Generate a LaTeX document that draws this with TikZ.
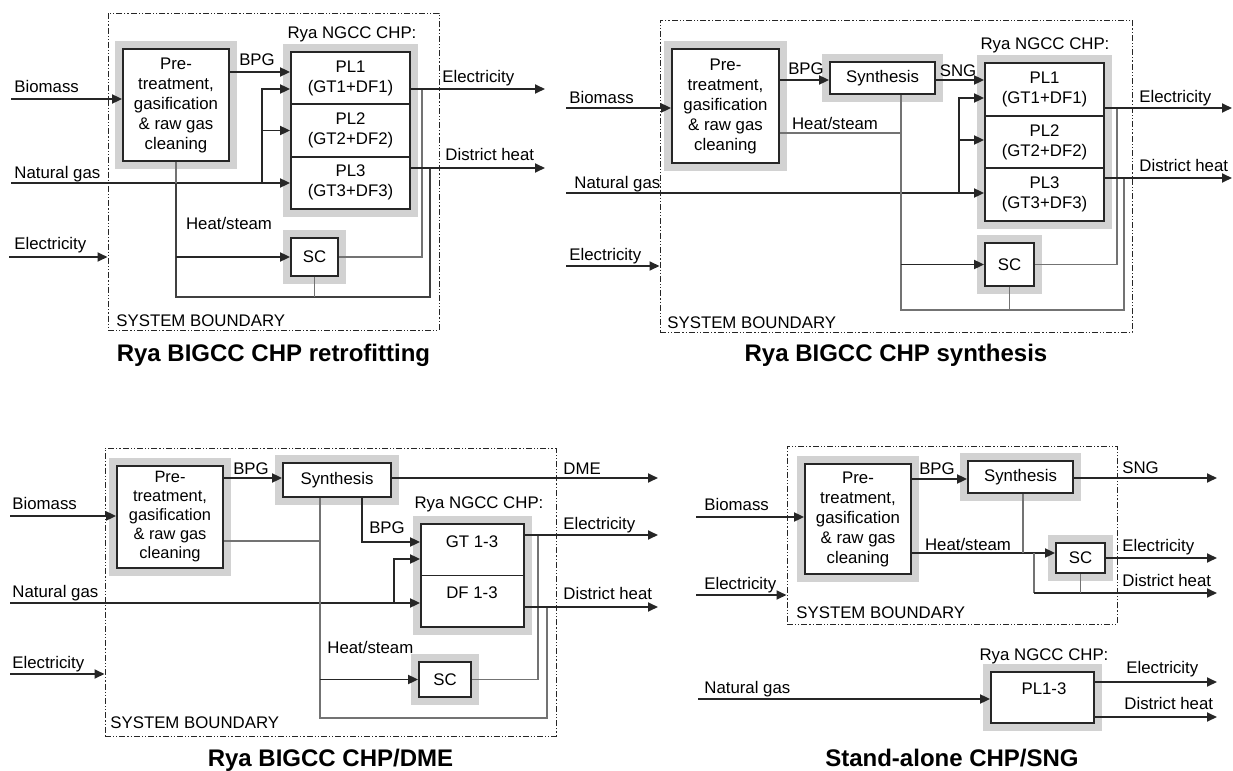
\documentclass[tikz,border=0pt]{standalone}
\usepackage{fontspec}
\setmainfont{Liberation Sans}
\usetikzlibrary{arrows.meta,positioning}

\newcommand{\lblfont}{\fontsize{8.4}{10}\selectfont}

\tikzset{
  unitbox/.style={draw=black!85, line width=0.9pt, fill=white, preaction={draw=gray!35, line width=8pt}, inner sep=0pt, align=center, font=\lblfont},
  cell/.style={draw=black!85, line width=0.9pt, inner sep=0pt, align=center, font=\lblfont},
  sysb/.style={draw=black!85, line width=0.5pt, dash pattern=on 3pt off 1pt on 0.6pt off 1pt on 0.6pt off 1pt, inner sep=0pt},
  lbl/.style={font=\lblfont, inner sep=0pt, text height=6pt, text depth=0pt},
  ttl/.style={font=\bfseries\fontsize{12}{14}\selectfont, inner sep=0pt, text height=8.6pt, text depth=0pt},
  flow/.style={->, >={Stealth[inset=0pt, length=5pt, width=4.5pt]}, line width=0.9pt, draw=black!85},
  tap/.style={line width=0.55pt, draw=black!55}
}

\begin{document}
\begin{tikzpicture}[x=0.5pt, y=-0.5pt]
\useasboundingbox (0,0) rectangle (1233,771);

% ---- Rya BIGCC CHP retrofitting ----
\node[sysb, minimum width=165.5pt, minimum height=158.5pt] (sb1) at (273.5,171.5) {};
\node[unitbox, minimum width=53pt, minimum height=56pt] (pre1) at (176,105) {Pre-\\treatment,\\gasification\\\& raw gas\\cleaning};
\node[unitbox, minimum width=59.5pt, minimum height=78.5pt] (chp1) at (350.5,130.5) {};
\node[cell, minimum width=59.5pt, minimum height=26.17pt] (pl11) at (350.5,78.2) {PL1\\(GT1+DF1)};
\node[cell, minimum width=59.5pt, minimum height=26.17pt] (pl12) at (350.5,130.5) {PL2\\(GT2+DF2)};
\node[cell, minimum width=59.5pt, minimum height=26.17pt] (pl13) at (350.5,182.8) {PL3\\(GT3+DF3)};
\node[unitbox, minimum width=23.5pt, minimum height=19pt] (sc1) at (314.5,257) {SC};

\coordinate (bio1) at (11,99);
\coordinate (ng1) at (11,183);
\coordinate (el1) at (9,257);
\coordinate (ngj1) at (262,183);
\coordinate (hsj1) at (176,183);
\coordinate (elj1) at (422,89);
\coordinate (dhj1) at (430,168);
\coordinate (elo1) at (545,89);
\coordinate (dho1) at (545,168);

\draw[flow] (bio1) -- (pre1.west |- bio1);
\draw[flow] (pre1.east |- 0,72) -- (pl11.west |- 0,72);
\draw[flow] (ng1) -- (pl13.west |- ng1);
\draw[flow] (ngj1) |- (pl11.west |- 0,89);
\draw[flow] (ngj1) |- (pl12.west);
\draw[flow] (el1) -- (sb1.west |- el1);
\draw[tap] (pre1.south) -- (hsj1);
\draw[tap, draw=black!75] (hsj1) -- (hsj1 |- 0,297) -| (dhj1);
\draw[flow] (hsj1 |- sc1.west) -- (sc1.west);
\draw[tap] (sc1.south) -- (sc1.south |- 0,297);
\draw[tap] (sc1.east) -| (elj1);
\draw[flow] (pl11.east |- elj1) -- (elo1);
\draw[flow] (pl13.east |- dhj1) -- (dho1);

\node[lbl, anchor=west] (bio1t) at (14,86) {Biomass};
\node[lbl, anchor=west] (ng1t) at (14,172) {Natural gas};
\node[lbl, anchor=west] (el1t) at (14,243) {Electricity};
\node[lbl] (bpg1t) at (257,59) {BPG};
\node[lbl] (hs1t) at (229,223) {Heat/steam};
\node[lbl] (ngcc1t) at (352,33) {Rya NGCC CHP:};
\node[lbl, anchor=west] (elo1t) at (442,77) {Electricity};
\node[lbl, anchor=west] (dho1t) at (445,154) {District heat};
\node[lbl, anchor=west] (sb1t) at (116,320) {SYSTEM BOUNDARY};
\node[ttl] (ttl1) at (273.5,353) {Rya BIGCC CHP retrofitting};

% ---- Rya BIGCC CHP synthesis ----
\node[sysb, minimum width=236pt, minimum height=156pt] (sb2) at (896,176) {};
\node[unitbox, minimum width=53.5pt, minimum height=57pt] (pre2) at (725.5,106) {Pre-\\treatment,\\gasification\\\& raw gas\\cleaning};
\node[unitbox, minimum width=52.5pt, minimum height=16pt] (syn2) at (882.5,78) {Synthesis};
\node[unitbox, minimum width=59.5pt, minimum height=79pt] (chp2) at (1044.5,142) {};
\node[cell, minimum width=59.5pt, minimum height=26.33pt] (pl21) at (1044.5,89.3) {PL1\\(GT1+DF1)};
\node[cell, minimum width=59.5pt, minimum height=26.33pt] (pl22) at (1044.5,142) {PL2\\(GT2+DF2)};
\node[cell, minimum width=59.5pt, minimum height=26.33pt] (pl23) at (1044.5,194.7) {PL3\\(GT3+DF3)};
\node[unitbox, minimum width=24.5pt, minimum height=21.5pt] (sc2) at (1009.5,264.5) {SC};

\coordinate (bio2) at (566,108);
\coordinate (ng2) at (566,193);
\coordinate (el2) at (566,266);
\coordinate (ngj2) at (959,193);
\coordinate (hsj2) at (901,133);
\coordinate (elj2) at (1117,108);
\coordinate (dhj2) at (1124,178);
\coordinate (elo2) at (1232,108);
\coordinate (dho2) at (1232,178);

\draw[flow] (bio2) -- (pre2.west |- bio2);
\draw[flow] (pre2.east |- 0,80) -- (syn2.west |- 0,80);
\draw[flow] (syn2.east |- 0,80) -- (pl21.west |- 0,80);
\draw[flow] (ng2) -- (pl23.west |- ng2);
\draw[flow] (ngj2) |- (pl21.west |- 0,98);
\draw[flow] (ngj2) |- (pl22.west |- 0,140);
\draw[flow] (el2) -- (sb2.west |- el2);
\draw[tap] (pre2.east |- hsj2) -- (hsj2);
\draw[tap] (syn2.south -| hsj2) -- (hsj2 |- 0,310) -| (dhj2);
\draw[flow] (hsj2 |- sc2.west) -- (sc2.west);
\draw[tap] (sc2.south) -- (sc2.south |- 0,310);
\draw[tap] (sc2.east) -| (elj2);
\draw[flow] (pl21.east |- elj2) -- (elo2);
\draw[flow] (pl23.east |- dhj2) -- (dho2);

\node[lbl, anchor=west] (bio2t) at (569,97) {Biomass};
\node[lbl, anchor=west] (ng2t) at (574,182) {Natural gas};
\node[lbl, anchor=west] (el2t) at (569,254) {Electricity};
\node[lbl] (bpg2t) at (806,68) {BPG};
\node[lbl] (sng2t) at (958,70) {SNG};
\node[lbl] (hs2t) at (835,123) {Heat/steam};
\node[lbl] (ngcc2t) at (1045,43) {Rya NGCC CHP:};
\node[lbl, anchor=west] (elo2t) at (1139,96) {Electricity};
\node[lbl, anchor=west] (dho2t) at (1139,165) {District heat};
\node[lbl, anchor=west] (sb2t) at (667,322) {SYSTEM BOUNDARY};
\node[ttl] (ttl2) at (896,353) {Rya BIGCC CHP synthesis};

% ---- Rya BIGCC CHP/DME ----
\node[sysb, minimum width=225.5pt, minimum height=144pt] (sb3) at (330.5,592) {};
\node[unitbox, minimum width=53pt, minimum height=51pt, font=\fontsize{8.2}{9.5}\selectfont] (pre3) at (170,517) {Pre-\\treatment,\\gasification\\\& raw gas\\cleaning};
\node[unitbox, minimum width=54pt, minimum height=17pt] (syn3) at (337,480) {Synthesis};
\node[unitbox, minimum width=51.5pt, minimum height=51.5pt] (chp3) at (472.5,575.5) {};
\node[cell, minimum width=51.5pt, minimum height=25.75pt] (gt3) at (472.5,549.75) {};
\node[cell, minimum width=51.5pt, minimum height=25.75pt] (df3) at (472.5,601.25) {};
\node[unitbox, minimum width=26pt, minimum height=17.5pt] (sc3) at (445,679.5) {SC};

\coordinate (bio3) at (10,516);
\coordinate (ng3) at (10,603);
\coordinate (el3) at (10,674);
\coordinate (bpj3) at (362,542);
\coordinate (ngj3) at (394,603);
\coordinate (hsj3) at (320,541);
\coordinate (elj3) at (538,535);
\coordinate (dhj3) at (547,607);
\coordinate (dmeo3) at (658,478);
\coordinate (elo3) at (658,535);
\coordinate (dho3) at (658,607);

\draw[flow] (bio3) -- (pre3.west |- bio3);
\draw[flow] (pre3.east |- 0,478) -- (syn3.west |- 0,478);
\draw[flow] (syn3.east |- dmeo3) -- (dmeo3);
\draw[flow] (syn3.south -| bpj3) |- (gt3.west |- bpj3);
\draw[flow] (ng3) -- (df3.west |- ng3);
\draw[flow] (ngj3) |- (gt3.west |- 0,559);
\draw[flow] (el3) -- (sb3.west |- el3);
\draw[tap] (pre3.east |- hsj3) -- (hsj3);
\draw[tap] (syn3.south -| hsj3) -- (hsj3 |- 0,718) -| (dhj3);
\draw[flow] (hsj3 |- sc3.west) -- (sc3.west);
\draw[tap] (sc3.east) -| (elj3);
\draw[flow] (gt3.east |- elj3) -- (elo3);
\draw[flow] (df3.east |- dhj3) -- (dho3);

\node[lbl] (gt3t) at (472,541) {GT 1-3};
\node[lbl] (df3t) at (472,592) {DF 1-3};
\node[lbl, anchor=west] (bio3t) at (12,503) {Biomass};
\node[lbl, anchor=west] (ng3t) at (12,591) {Natural gas};
\node[lbl, anchor=west] (el3t) at (12,662) {Electricity};
\node[lbl] (bpg3t) at (251,468) {BPG};
\node[lbl, anchor=west] (dme3t) at (563,468) {DME};
\node[lbl] (ngcc3t) at (479,502) {Rya NGCC CHP:};
\node[lbl] (bpg3u) at (387,527) {BPG};
\node[lbl, anchor=west] (hs3t) at (327,647) {Heat/steam};
\node[lbl, anchor=west] (elo3t) at (563,523) {Electricity};
\node[lbl, anchor=west] (dho3t) at (563,593) {District heat};
\node[lbl, anchor=west] (sb3t) at (110,722) {SYSTEM BOUNDARY};
\node[ttl] (ttl3) at (330.5,758) {Rya BIGCC CHP/DME};

% ---- Stand-alone CHP/SNG ----
\node[sysb, minimum width=165pt, minimum height=89pt] (sb4) at (952,535) {};
\node[unitbox, minimum width=53pt, minimum height=55pt] (pre4) at (858,519) {Pre-\\treatment,\\gasification\\\& raw gas\\cleaning};
\node[unitbox, minimum width=52.5pt, minimum height=16pt] (syn4) at (1020.5,477) {Synthesis};
\node[unitbox, minimum width=24.5pt, minimum height=15pt] (sc4) at (1080.5,558) {SC};
\node[unitbox, minimum width=51.5pt, minimum height=25.5pt] (chp4) at (1042.5,697.5) {};

\coordinate (bio4) at (696,517);
\coordinate (el4) at (696,595);
\coordinate (ng4) at (698,699);
\coordinate (hsj4) at (1023,553);
\coordinate (dhj4) at (1034,553);
\coordinate (sngo4) at (1217,478);
\coordinate (elo4) at (1217,558);
\coordinate (dho4) at (1217,593);
\coordinate (elo4b) at (1217,682);
\coordinate (dho4b) at (1217,717);

\draw[flow] (bio4) -- (pre4.west |- bio4);
\draw[flow] (pre4.east |- 0,479) -- (syn4.west |- 0,479);
\draw[flow] (syn4.east |- sngo4) -- (sngo4);
\draw[flow] (pre4.east |- hsj4) -- (sc4.west |- hsj4);
\draw[tap] (syn4.south -| hsj4) -- (hsj4);
\draw[tap] (dhj4) -- (dhj4 |- dho4);
\draw[flow] (dhj4 |- dho4) -- (dho4);
\draw[tap] (sc4.south) -- (sc4.south |- dho4);
\draw[flow] (sc4.east) -- (elo4);
\draw[flow] (el4) -- (sb4.west |- el4);
\draw[flow] (ng4) -- (chp4.west |- ng4);
\draw[flow] (chp4.east |- elo4b) -- (elo4b);
\draw[flow] (chp4.east |- dho4b) -- (dho4b);

\node[lbl] (pl4t) at (1044,688) {PL1-3};
\node[lbl, anchor=west] (bio4t) at (704,504) {Biomass};
\node[lbl, anchor=west] (el4t) at (704,583) {Electricity};
\node[lbl, anchor=west] (ng4t) at (704,687) {Natural gas};
\node[lbl] (bpg4t) at (937,468) {BPG};
\node[lbl, anchor=west] (sng4t) at (1122,467) {SNG};
\node[lbl] (hs4t) at (968,544) {Heat/steam};
\node[lbl, anchor=west] (elo4t) at (1122,545) {Electricity};
\node[lbl, anchor=west] (dho4t) at (1122,580) {District heat};
\node[lbl, anchor=west] (sb4t) at (796,612) {SYSTEM BOUNDARY};
\node[lbl] (ngcc4t) at (1044,654) {Rya NGCC CHP:};
\node[lbl, anchor=west] (elo4u) at (1126,667) {Electricity};
\node[lbl, anchor=west] (dho4u) at (1124,703) {District heat};
\node[ttl] (ttl4) at (952,758) {Stand-alone CHP/SNG};
\end{tikzpicture}
\end{document}
